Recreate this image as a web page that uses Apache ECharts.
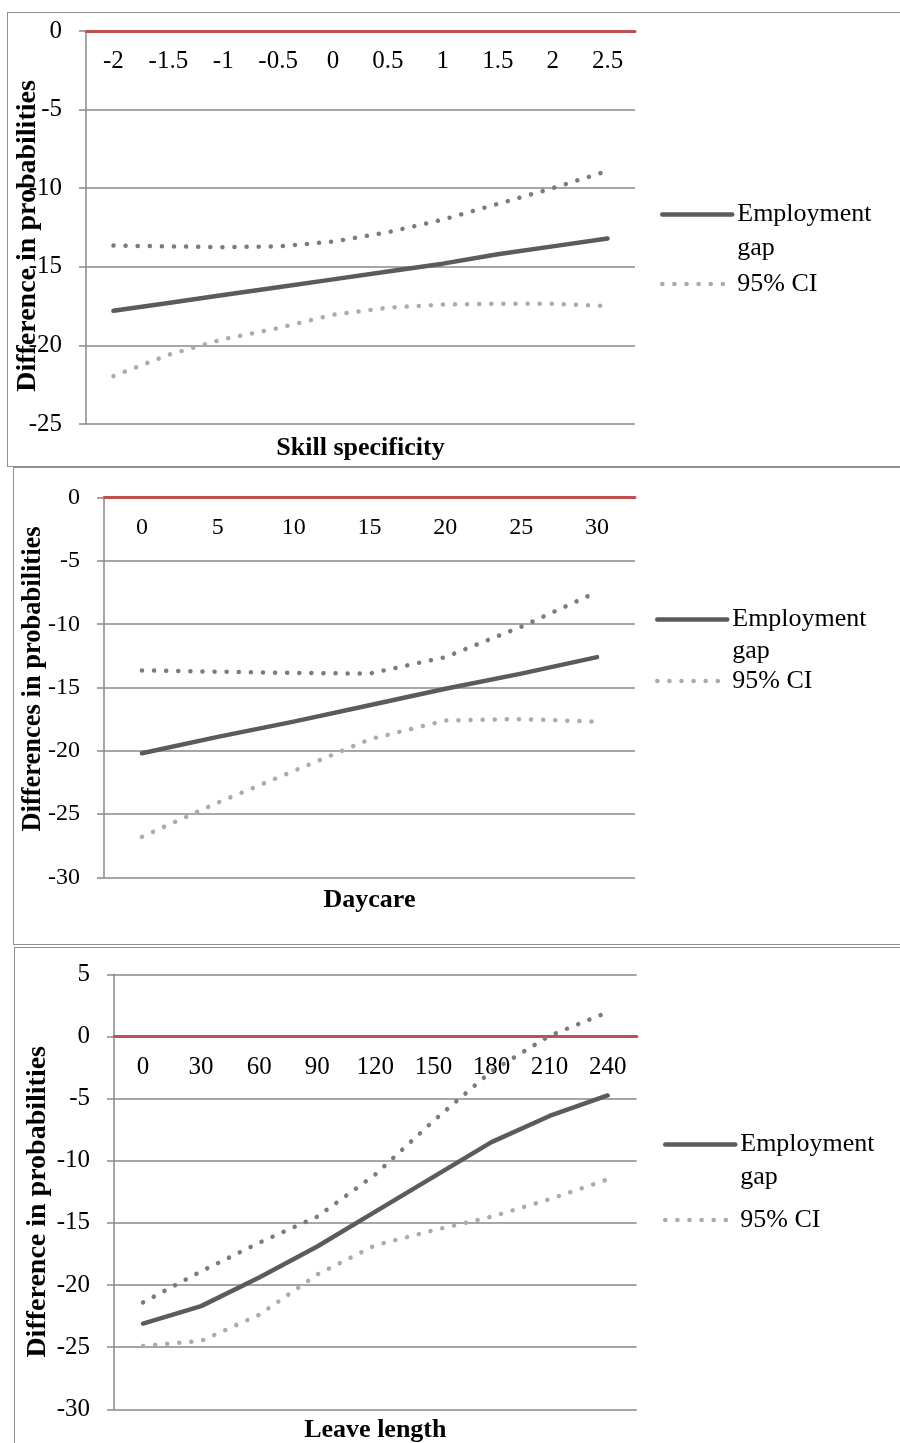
<!DOCTYPE html>
<html>
<head>
<meta charset="utf-8">
<script src="https://cdn.jsdelivr.net/npm/echarts@6/dist/echarts.min.js"></script>
<style>
  html, body { margin: 0; padding: 0; background: #fff; }
  body { width: 900px; height: 1443px; position: relative; overflow: hidden; }
  .frame { position: absolute; border: 1.5px solid #8f8f8f; box-sizing: border-box; }
  #chart { position: absolute; left: 0; top: 0; width: 900px; height: 1443px; }
</style>
</head>
<body>
<div class="frame" style="left:7px; top:12px; width:1000px; height:455px;"></div>
<div class="frame" style="left:13px; top:467px; width:1000px; height:478px;"></div>
<div class="frame" style="left:14px; top:947px; width:1000px; height:600px;"></div>
<div id="chart"></div>
<script>
// ---------- data ----------
const skillCats   = ['-2', '-1.5', '-1', '-0.5', '0', '0.5', '1', '1.5', '2', '2.5'];
const skillGap    = [-17.8, -17.3, -16.8, -16.3, -15.8, -15.3, -14.8, -14.2, -13.7, -13.2];
const skillUpper  = [-13.65, -13.7, -13.75, -13.7, -13.4, -12.8, -12.0, -11.0, -10.0, -8.9];
const skillLower  = [-21.95, -20.6, -19.6, -18.9, -18.05, -17.6, -17.4, -17.35, -17.35, -17.5];

const daycareCats  = ['0', '5', '10', '15', '20', '25', '30'];
const daycareGap   = [-20.2, -18.9, -17.7, -16.4, -15.1, -13.9, -12.6];
const daycareUpper = [-13.65, -13.75, -13.85, -13.9, -12.6, -10.2, -7.45];
const daycareLower = [-26.8, -24.1, -21.6, -19.1, -17.6, -17.5, -17.7];

const leaveCats  = ['0', '30', '60', '90', '120', '150', '180', '210', '240'];
const leaveGap   = [-23.1, -21.7, -19.4, -16.9, -14.1, -11.3, -8.5, -6.4, -4.75];
const leaveUpper = [-21.4, -18.9, -16.6, -14.5, -11.1, -6.8, -2.8, 0.05, 1.95];
const leaveLower = [-24.9, -24.5, -22.4, -19.15, -16.8, -15.6, -14.5, -13.1, -11.5];

const yNames = ['Difference in probabilities', 'Differences in probabilities', 'Difference in probabilities'];
const xNames = ['Skill specificity', 'Daycare', 'Leave length'];
const gapName = 'Employment gap';
const ciName = '95% CI';

// ---------- styling ----------
const FONT = 'Liberation Serif';
const GRID_COLOR = '#898989';
const RED = '#C0504D';
const GAP_COLOR = '#5b5b5b';
const UPPER_COLOR = '#7b7b7b';
const LOWER_COLOR = '#ababab';
const DOT = [0.1, 12];

const panels = [
  { cats: skillCats, gap: skillGap, up: skillUpper, lo: skillLower,
    grid: { left: 86, top: 31, width: 549, height: 393 },
    y: { min: -25, max: 0 }, labelSize: 25, yNameSize: 28, yNameGap: 44, yNamePad: [0, 17, 0, 0],
    xNameGap: 11, legendLeft: 660, legendTopA: 201, legendTopB: 268, legendLine: 68 },
  { cats: daycareCats, gap: daycareGap, up: daycareUpper, lo: daycareLower,
    grid: { left: 104, top: 497.7, width: 531, height: 379.6 },
    y: { min: -30, max: 0 }, labelSize: 24, yNameSize: 26.5, yNameGap: 57, yNamePad: [0, 0, 0, 17],
    xNameGap: 10, legendLeft: 655, legendTopA: 606, legendTopB: 665, legendLine: 63 },
  { cats: leaveCats, gap: leaveGap, up: leaveUpper, lo: leaveLower,
    grid: { left: 114, top: 974.3, width: 522.7, height: 435 },
    y: { min: -30, max: 5 }, labelSize: 25, yNameSize: 28, yNameGap: 62, yNamePad: [0, 20, 0, 0],
    xNameGap: 8, legendLeft: 663, legendTopA: 1131, legendTopB: 1204, legendLine: 65 }
];

const grid = [], xAxis = [], yAxis = [], series = [], legend = [];

panels.forEach((p, i) => {
  grid.push(Object.assign({ containLabel: false, outerBoundsMode: 'none' }, p.grid));
  // main category axis: red line drawn where y = 0, labels hang below it
  const zeroOffset = -(p.y.max / (p.y.max - p.y.min)) * p.grid.height;
  xAxis.push({
    type: 'category', gridIndex: i, data: p.cats, boundaryGap: true,
    position: 'top', offset: zeroOffset,
    axisLine: { onZero: false, lineStyle: { color: RED, width: 3 } },
    axisTick: { show: false },
    axisLabel: { inside: true, interval: 0, margin: 18, color: '#000', fontFamily: FONT, fontSize: p.labelSize },
    splitLine: { show: false }
  });
  // name-only axis at the bottom of the plot
  xAxis.push({
    type: 'category', gridIndex: i, data: p.cats, position: 'bottom',
    axisLine: { show: false, onZero: false }, axisTick: { show: false }, axisLabel: { show: false },
    splitLine: { show: false },
    name: xNames[i], nameLocation: 'middle', nameGap: p.xNameGap, nameMoveOverlap: false,
    nameTextStyle: { color: '#000', fontFamily: FONT, fontSize: 26, fontWeight: 'bold' }
  });
  yAxis.push({
    type: 'value', gridIndex: i, min: p.y.min, max: p.y.max, interval: 5,
    axisLine: { show: true, onZero: false, lineStyle: { color: GRID_COLOR, width: 1.5 } },
    axisTick: { show: true, length: 7, lineStyle: { color: GRID_COLOR, width: 1.5 } },
    axisLabel: { margin: 24, color: '#000', fontFamily: FONT, fontSize: p.labelSize },
    splitLine: { show: true, lineStyle: { color: GRID_COLOR, width: 1.5 } },
    name: yNames[i], nameLocation: 'middle', nameGap: p.yNameGap, nameMoveOverlap: false,
    nameTextStyle: { color: '#000', fontFamily: FONT, fontSize: p.yNameSize, fontWeight: 'bold', padding: p.yNamePad }
  });
  const xi = i * 2;
  series.push({
    name: gapName, type: 'line', xAxisIndex: xi, yAxisIndex: i, data: p.gap,
    symbol: 'none', smooth: false, z: 4,
    lineStyle: { color: GAP_COLOR, width: 4.5, cap: 'round', join: 'round' },
    itemStyle: { color: GAP_COLOR }
  });
  series.push({
    name: ciName, type: 'line', xAxisIndex: xi, yAxisIndex: i, data: p.lo,
    symbol: 'none', smooth: false, z: 4,
    lineStyle: { color: LOWER_COLOR, width: 4.5, type: DOT, cap: 'round' },
    itemStyle: { color: LOWER_COLOR }
  });
  series.push({
    name: ciName, type: 'line', xAxisIndex: xi, yAxisIndex: i, data: p.up,
    symbol: 'none', smooth: false, z: 4,
    lineStyle: { color: UPPER_COLOR, width: 4.5, type: DOT, cap: 'round' },
    itemStyle: { color: UPPER_COLOR }
  });
  const legendCommon = {
    left: p.legendLeft, orient: 'vertical', padding: 0,
    itemWidth: 70, itemHeight: 14, selectedMode: false,
    itemStyle: { opacity: 0 },
    lineStyle: { width: 'inherit', type: 'inherit', cap: 'inherit', color: 'inherit' }
  };
  legend.push(Object.assign({}, legendCommon, {
    top: p.legendTopA,
    data: [gapName],
    formatter: () => '{e|Employment}\n{g|gap}',
    textStyle: {
      color: '#000', fontFamily: FONT, fontSize: 26,
      rich: {
        e: { color: '#000', fontFamily: FONT, fontSize: 26, lineHeight: p.legendLine },
        g: { color: '#000', fontFamily: FONT, fontSize: 26, lineHeight: 1 }
      }
    }
  }));
  legend.push(Object.assign({}, legendCommon, {
    top: p.legendTopB,
    data: [ciName],
    textStyle: { color: '#000', fontFamily: FONT, fontSize: 26, lineHeight: 32 }
  }));
});

const chart = echarts.init(document.getElementById('chart'), null, { renderer: 'canvas' });
chart.setOption({
  backgroundColor: 'transparent',
  animation: false,
  grid, xAxis, yAxis, series, legend
});
</script>
</body>
</html>
